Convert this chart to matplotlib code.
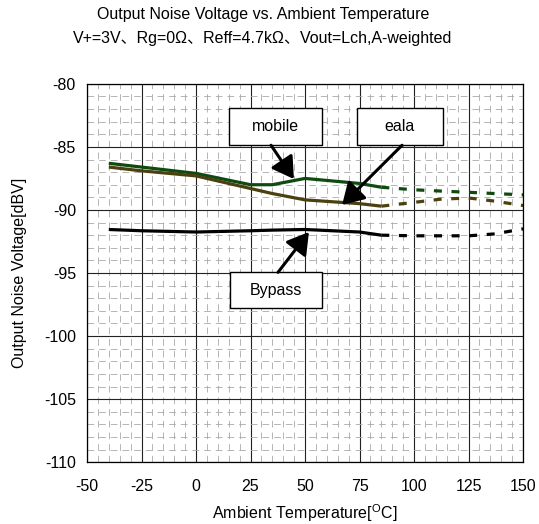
import matplotlib
matplotlib.use('Agg')
import matplotlib.pyplot as plt
from matplotlib.ticker import MultipleLocator
import matplotlib.patches as patches

# measured (solid) and extrapolated (dashed) parts of each curve
temp_meas = [-40, -25, 0, 25, 35, 50, 75, 85]
temp_ext = [85, 100, 112, 125, 137, 150]

mobile_meas = [-86.3, -86.6, -87.1, -88.0, -88.0, -87.5, -87.9, -88.2]
mobile_ext = [-88.2, -88.4, -88.5, -88.6, -88.7, -88.8]

eala_meas = [-86.6, -86.9, -87.3, -88.3, -88.7, -89.2, -89.5, -89.7]
eala_ext = [-89.7, -89.4, -89.15, -89.05, -89.3, -89.65]

bypass_meas = [-91.55, -91.65, -91.75, -91.65, -91.6, -91.55, -91.75, -92.0]
bypass_ext = [-92.0, -92.05, -92.05, -92.05, -91.9, -91.5]

xticks = [-50, -25, 0, 25, 50, 75, 100, 125, 150]
yticks = [-80, -85, -90, -95, -100, -105, -110]

FONT = ['Liberation Sans', 'Noto Sans CJK JP', 'DejaVu Sans']
plt.rcParams['font.family'] = FONT
plt.rcParams['axes.unicode_minus'] = False
FS = 11.5

fig = plt.figure(figsize=(5.39, 5.24), dpi=100)
ax = fig.add_axes([0.1614, 0.118, 0.809, 0.722])

ax.set_xlim(-50, 150)
ax.set_ylim(-110, -80)
ax.set_xticks(xticks)
ax.set_yticks(yticks)
ax.xaxis.set_minor_locator(MultipleLocator(5))
ax.yaxis.set_minor_locator(MultipleLocator(1))
ax.tick_params(which='both', length=0, labelsize=FS)
ax.tick_params(axis='x', pad=12)
ax.tick_params(axis='y', pad=8)
ax.grid(which='minor', color='#a8a8a8', linestyle=(0, (8, 6)), linewidth=0.6)
ax.grid(which='major', color='#222222', linestyle='-', linewidth=0.8)
ax.set_axisbelow(True)
for s in ax.spines.values():
    s.set_linewidth(0.9)

c_mobile = '#0f4a10'
c_eala = '#4a4010'
c_bypass = '#000000'
lw = 2.3
dash = (0, (2.5, 3.0))

for xm, ym, ye, c in [(temp_meas, mobile_meas, mobile_ext, c_mobile),
                      (temp_meas, eala_meas, eala_ext, c_eala),
                      (temp_meas, bypass_meas, bypass_ext, c_bypass)]:
    ax.plot(xm, ym, color=c, lw=lw, solid_capstyle='butt')
    ax.plot(temp_ext, ye, color=c, lw=lw, linestyle=dash, dash_capstyle='butt')

# annotation boxes (box extents, arrow start, arrow tip)
boxes = [
    ('mobile', (15.1, -84.87, 42.7, 2.94), (34.4, -84.87), (44.9, -87.55)),
    ('eala', (73.8, -84.87, 39.5, 2.94), (94.5, -84.87), (67.0, -89.6)),
    ('Bypass', (15.6, -97.8, 42.2, 2.85), (37.6, -94.95), (51.8, -91.75)),
]
for label, (bx, by, bw, bh), start, tip in boxes:
    ax.add_patch(patches.Rectangle((bx, by), bw, bh, facecolor='white',
                                   edgecolor='black', lw=1.0, zorder=5))
    ax.text(bx + bw / 2, by + bh / 2, label, ha='center', va='center',
            fontsize=FS, zorder=6)
    ax.annotate('', xy=tip, xytext=start, zorder=6,
                arrowprops=dict(arrowstyle='-|>,head_length=0.5,head_width=0.3',
                                mutation_scale=26, lw=2.2,
                                color='black', shrinkA=0, shrinkB=0))

ax.set_xlabel('Ambient Temperature[$\\mathregular{^O}$C]', fontsize=FS, labelpad=6)
ax.set_ylabel('Output Noise Voltage[dBV]', fontsize=FS, labelpad=12)

fig.text(0.488, 1 - 15 / 524, 'Output Noise Voltage vs. Ambient Temperature',
         ha='center', va='center', fontsize=FS)
fig.text(0.488, 1 - 39 / 524, 'V+=3V、Rg=0Ω、Reff=4.7kΩ、Vout=Lch,A-weighted',
         ha='center', va='center', fontsize=FS)

fig.savefig('out.png', dpi=100)
